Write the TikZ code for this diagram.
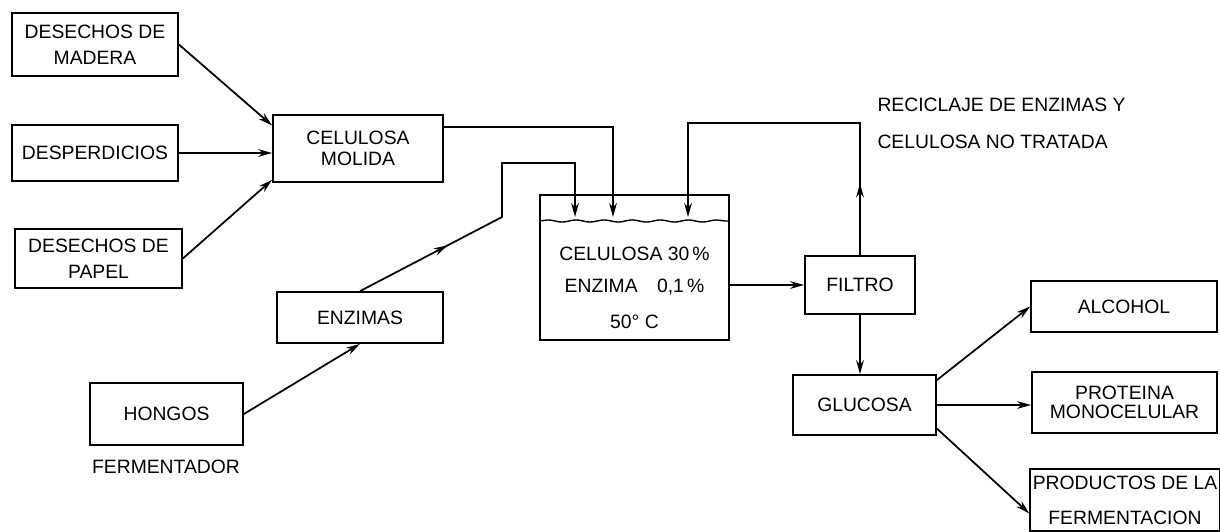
\documentclass[tikz,border=0pt]{standalone}
\usepackage{fontspec}
\setmainfont{Liberation Sans}
\usetikzlibrary{arrows.meta,decorations.pathmorphing,decorations.markings}

\begin{document}
\begin{tikzpicture}[x=0.02cm, y=-0.02cm, line width=1pt,
  every node/.style={inner sep=1.5pt, font=\fontsize{11}{13}\selectfont},
  box/.style={draw, rectangle, align=center},
  flow/.style={-{Stealth[length=8pt,width=4.4pt]}},
  midflow/.style={postaction={decorate}, decoration={markings,
      mark=at position #1 with {\arrow{Stealth[length=8pt,width=4.4pt]}}}}]
  \useasboundingbox (0,0) rectangle (1220,531);
  \node[box, minimum width=3.32cm, minimum height=1.26cm] (madera) at (95,44.5) {DESECHOS DE\\[2pt]MADERA};
  \node[box, minimum width=3.32cm, minimum height=1.12cm] (desp) at (95,153) {DESPERDICIOS};
  \node[box, minimum width=3.34cm, minimum height=1.18cm] (papel) at (98.5,258.5) {DESECHOS DE\\[2pt]PAPEL};
  \node[box, minimum width=3.40cm, minimum height=1.34cm] (celmol) at (358,148.5) {CELULOSA\\[-1pt]MOLIDA};
  \node[box, minimum width=3.32cm, minimum height=1.02cm] (enz) at (360,317.5) {ENZIMAS};
  \node[box, minimum width=3.06cm, minimum height=1.24cm] (hongos) at (166.5,414) {HONGOS};
  \node (ferm) at (166,467) {FERMENTADOR};
  \node[box, minimum width=3.78cm, minimum height=2.90cm] (tank) at (634.5,267.5) {};
  \node[align=center] (tanktxt) at (tank.center |- 0,288) {CELULOSA 30\,\%\\[5pt]ENZIMA\quad 0,1\,\%\\[8pt]50° C};
  \node[box, minimum width=2.20cm, minimum height=1.16cm] (filtro) at (860,285) {FILTRO};
  \node[box, minimum width=2.86cm, minimum height=1.20cm] (gluc) at (864.5,405) {GLUCOSA};
  \node[box, minimum width=3.72cm, minimum height=1.02cm] (alcohol) at (1124,306.5) {ALCOHOL};
  \node[box, minimum width=3.70cm, minimum height=1.22cm] (prot) at (1124.5,402.5) {PROTEINA\\[-2pt]MONOCELULAR};
  \node[box, minimum width=3.68cm, minimum height=1.24cm] (prod) at (1125,500) {PRODUCTOS DE LA\\[7pt]FERMENTACION};
  \node[anchor=west, align=left] (recic) at (874,123.5) {RECICLAJE DE ENZIMAS Y\\[8pt]CELULOSA NO TRATADA};
  \coordinate (inA) at (575,217);
  \coordinate (inB) at (613,217);
  \coordinate (inC) at (688,217);
  \coordinate (kE) at (502,217);
  \coordinate (jE) at (502,163);
  \coordinate (rTop) at (filtro.north |- 0,123);
  \coordinate (wL) at (tank.west |- 0,221);
  \coordinate (wR) at (tank.east |- 0,221);
  \draw[line width=0.8pt, decorate, decoration={snake, amplitude=0.6pt, segment length=16pt}] (wL) -- (wR);
  \draw[flow] (madera.east) -- (celmol.165);
  \draw[flow] (desp.east) -- (desp.east -| celmol.west);
  \draw[flow] (papel.east) -- (celmol.200);
  \draw[flow] (hongos.east) -- (enz.south);
  \draw[flow, midflow=0.29] (enz.north) -- (kE) -- (jE) -| (inA);
  \draw[flow] (celmol.14) -| (inB);
  \draw[flow, midflow=0.18] (filtro.north) -- (rTop) -| (inC);
  \draw[flow] (filtro.west -| tank.east) -- (filtro.west);
  \draw[flow] (filtro.south) -- (filtro.south |- gluc.north);
  \draw[flow] (gluc.19) -- (alcohol.west);
  \draw[flow] (gluc.east) -- (gluc.east -| prot.west);
  \draw[flow] (gluc.-18) -- (prod.188);
\end{tikzpicture}
\end{document}
